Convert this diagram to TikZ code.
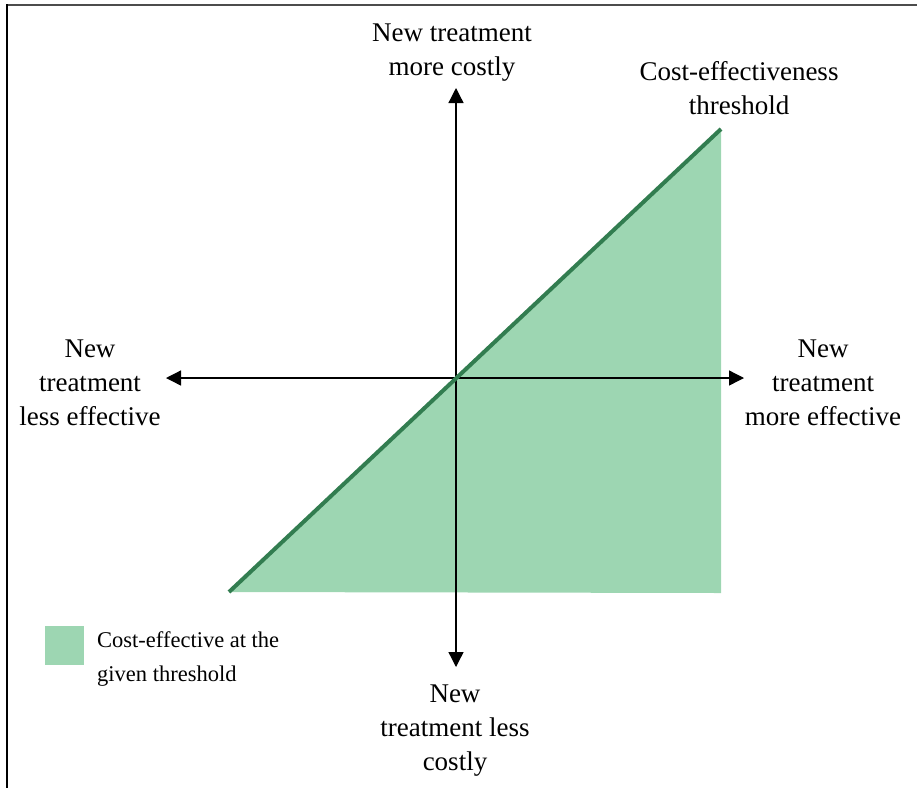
\documentclass[tikz,border=0pt]{standalone}
\usepackage{fontspec}
\setmainfont{Liberation Serif}
\usetikzlibrary{arrows.meta}
\definecolor{ceFill}{RGB}{157,214,178}
\definecolor{ceLine}{RGB}{50,125,80}

\begin{document}
\begin{tikzpicture}[x=1pt,y=-1pt,>={Triangle[length=15pt,width=15pt]},
  lab/.style={align=center,inner sep=0pt,font=\fontsize{27}{34}\selectfont}]
\useasboundingbox (0,0) rectangle (917,788);
\draw[black!70,line width=2pt] (6,4.5)--(917,4.5); \draw[line width=2pt] (6.5,4)--(6.5,788);
\coordinate (O) at (456,378);
\coordinate (xl) at (166,378); \coordinate (xr) at (744,378);
\coordinate (yt) at (456,88); \coordinate (yb) at (456,667);
\coordinate (tl) at (229,592); \coordinate (tr) at (721,129); \coordinate (br) at (721,593);
\fill[ceFill] (tl)--(tr)--(br)--cycle;
\draw[<->,line width=1.3pt] (xl)--(xr); \draw[<->,line width=1.3pt] (yt)--(yb);
\draw[ceLine,line width=4pt] (tl)--(tr);
\node[lab] (costly) at (452,53) {New treatment\\more costly};
\node[lab] (thresh) at (739,88) {Cost-effectiveness\\threshold};
\node[lab] (lesseff) at (90,383) {New\\treatment\\less effective};
\node[lab] (moreeff) at (823,383) {New\\treatment\\more effective};
\node[lab] (cheaper) at (455,731) {New\\treatment less\\costly};
\node[fill=ceFill,minimum size=39pt,inner sep=0pt] (key) at (64.5,645.5) {};
\node[anchor=west,align=left,inner sep=0pt,font=\fontsize{22.5}{34}\selectfont] (keytext) at (97,659) {Cost-effective at the\\given threshold};
\end{tikzpicture}
\end{document}
